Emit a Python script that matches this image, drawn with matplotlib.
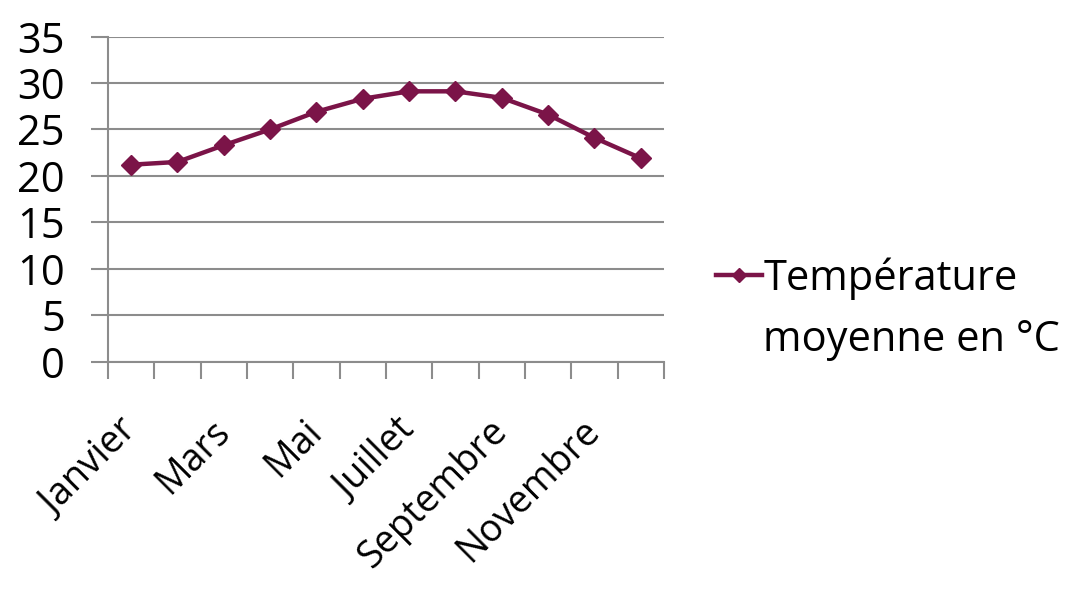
import matplotlib.pyplot as plt
import numpy as np
from matplotlib.lines import Line2D

months = ['Janvier', 'Février', 'Mars', 'Avril', 'Mai', 'Juin', 'Juillet',
          'Août', 'Septembre', 'Octobre', 'Novembre', 'Décembre']
temperatures = [21.2, 21.5, 23.3, 25.0, 26.9, 28.3, 29.1, 29.1, 28.4, 26.6, 24.1, 21.9]
y_ticks = [0, 5, 10, 15, 20, 25, 30, 35]

line_color = '#7b1448'
grid_color = '#8c8c8c'

plt.rcParams['font.family'] = ['Open Sans', 'DejaVu Sans']

fig = plt.figure(figsize=(10.69, 5.89), dpi=100)
ax = fig.add_axes([0.101, 0.386, 0.52, 0.552])

x = np.arange(len(months))
ax.plot(x, temperatures, color=line_color, lw=3.2, marker='D', markersize=10,
        label='Température')

ax.set_xlim(-0.5, len(months) - 0.5)
ax.set_ylim(0, 35)
ax.set_yticks(y_ticks)
ax.yaxis.grid(True, color=grid_color, lw=1.5)
ax.set_axisbelow(True)

# labels on every other month, tick marks between categories
ax.set_xticks(x[::2])
ax.set_xticklabels(months[::2], rotation=45, ha='right', va='center',
                   rotation_mode='anchor', fontsize=27)
ax.set_xticks(np.arange(-0.5, len(months)), minor=True)
ax.tick_params(axis='x', which='major', length=0, pad=46)
ax.tick_params(axis='x', which='minor', length=12, width=1.5, color=grid_color)
ax.tick_params(axis='y', length=12, width=1.5, color=grid_color, labelsize=30, pad=19)

for side in ['top', 'right']:
    ax.spines[side].set_visible(False)
for side in ['left', 'bottom']:
    ax.spines[side].set_color(grid_color)
    ax.spines[side].set_linewidth(1.5)

handle = Line2D([], [], color=line_color, lw=3.2, marker='D', markersize=7)
fig.legend([handle], ['Température'], loc='center left',
           bbox_to_anchor=(0.654, 0.527), frameon=False, fontsize=30,
           handlelength=1.1, handletextpad=0.05, borderaxespad=0)
fig.text(0.714, 0.422, 'moyenne en °C', fontsize=30, va='center', ha='left')

fig.savefig('out.png', dpi=100)
